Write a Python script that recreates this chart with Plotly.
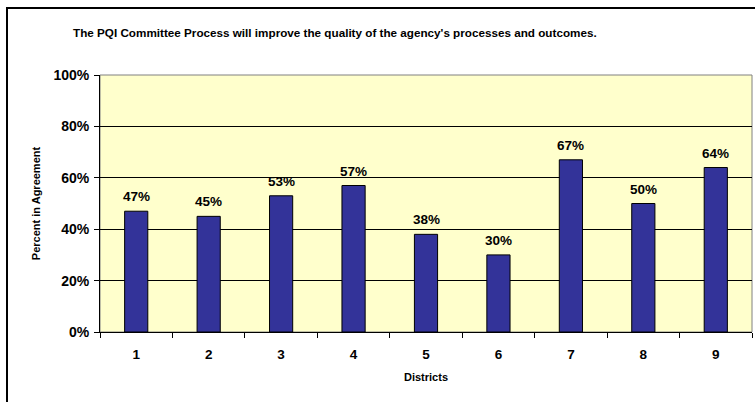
import plotly.graph_objects as go

# Survey results by district
districts = ["1", "2", "3", "4", "5", "6", "7", "8", "9"]
agreement = [47, 45, 53, 57, 38, 30, 67, 50, 64]  # percent
y_ticks = [0, 20, 40, 60, 80, 100]

W, H = 755, 402
L, R, T, B = 100, 3, 75, 70
pw, ph = W - L - R, H - T - B

def px_x(p):
    return (p - L) / pw

def px_y(p):
    return (H - B - p) / ph

font_family = "Arial, Liberation Sans, sans-serif"

fig = go.Figure()
fig.add_trace(go.Bar(
    x=districts,
    y=agreement,
    width=0.32,
    marker=dict(color="#333399", line=dict(color="#000000", width=1)),
    hoverinfo="skip",
))

# value labels above each bar (category axis positions are indices)
value_labels = [
    dict(x=i, y=v, xref="x", yref="y", text=f"<b>{v}%</b>",
         showarrow=False, xanchor="center", yanchor="bottom", yshift=5,
         font=dict(family=font_family, size=13.5, color="#000000"))
    for i, v in enumerate(agreement)
]

fig.update_layout(
    width=W, height=H,
    margin=dict(l=L, r=R, t=T, b=B),
    paper_bgcolor="#FFFFFF",
    plot_bgcolor="#FFFFCC",
    showlegend=False,
    font=dict(family=font_family, color="#000000"),
    shapes=[
        # plot area frame
        dict(type="rect", xref="paper", yref="paper", x0=0, y0=0, x1=1, y1=1,
             line=dict(color="#808080", width=1), layer="below"),
        # outer chart frame
        dict(type="rect", xref="paper", yref="paper",
             x0=px_x(7), y0=px_y(H + 10), x1=px_x(W + 10), y1=px_y(8),
             line=dict(color="#000000", width=2)),
    ],
    annotations=[
        dict(text="<b>The PQI Committee Process will improve the quality of the agency's processes and outcomes.</b>",
             xref="paper", yref="paper", x=px_x(335), y=px_y(33),
             xanchor="center", yanchor="middle", showarrow=False,
             font=dict(family=font_family, size=11.7)),
    ] + value_labels,
)

fig.update_xaxes(
    type="category",
    range=[-0.5, len(districts) - 0.5],
    tickson="boundaries",
    ticks="outside", ticklen=5, tickcolor="#000000",
    showline=True, linecolor="#000000", linewidth=1,
    showgrid=False,
    tickvals=districts,
    ticktext=[f"<b>{d}</b>" for d in districts],
    tickfont=dict(family=font_family, size=13.5),
    ticklabelstandoff=10,
    title=dict(text="<b>Districts</b>", font=dict(family=font_family, size=11), standoff=12),
)
fig.update_yaxes(
    range=[0, 100],
    tickvals=y_ticks,
    ticktext=[f"<b>{v}%</b>" for v in y_ticks],
    ticks="outside", ticklen=5, tickcolor="#000000",
    showline=True, linecolor="#000000", linewidth=1,
    showgrid=True, gridcolor="#000000", gridwidth=1,
    zeroline=False,
    tickfont=dict(family=font_family, size=14),
    ticklabelstandoff=2,
    title=dict(text="<b>Percent in Agreement</b>", font=dict(family=font_family, size=11), standoff=10),
)

fig.write_html("out.html")
